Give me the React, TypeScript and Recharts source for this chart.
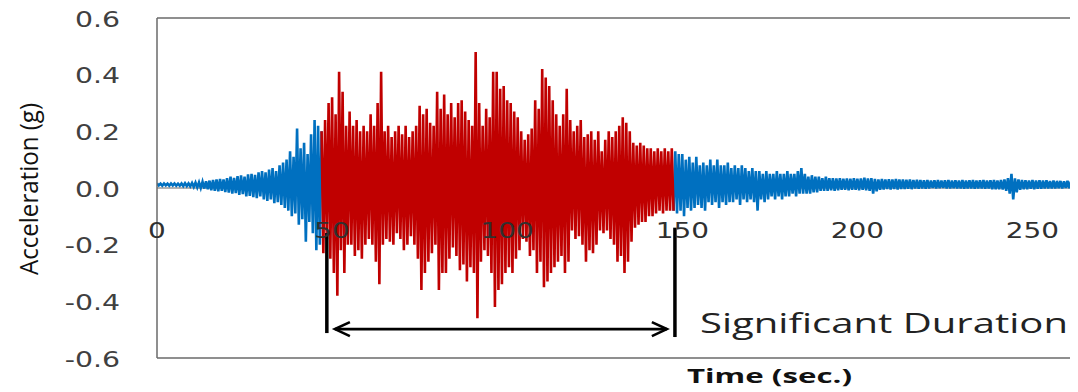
import { LineChart, Line, XAxis, YAxis, ReferenceLine } from "recharts";

// acceleration (g) read from the record: highest and lowest value in each second
const prePeaks = [
  0.016, 0.015, 0.016, 0.015, 0.016, 0.016, 0.015, 0.016, 0.017, 0.016,
  0.018, 0.019, 0.02, 0.022, 0.024, 0.026, 0.028, 0.03, 0.032, 0.03,
  0.035, 0.04, 0.036, 0.042, 0.045, 0.04, 0.048, 0.05, 0.046, 0.055,
  0.06, 0.055, 0.065, 0.07, 0.06, 0.08, 0.09, 0.1, 0.13, 0.11,
  0.21, 0.14, 0.16, 0.12, 0.19, 0.24, 0.22,
];
const preTroughs = [
  0.009, 0.008, 0.009, 0.008, 0.009, 0.008, 0.008, 0.007, 0.007, 0.006,
  0.004, 0.002, 0.0, -0.002, -0.004, -0.008, -0.01, -0.012, -0.01, -0.014,
  -0.016, -0.02, -0.018, -0.024, -0.022, -0.03, -0.028, -0.032, -0.036, -0.03,
  -0.04, -0.046, -0.04, -0.054, -0.05, -0.06, -0.07, -0.08, -0.1, -0.09,
  -0.13, -0.11, -0.19, -0.12, -0.16, -0.22, -0.2,
];

const strongPeaks = [
  0.2,
  0.24, 0.3, 0.32, 0.26, 0.41, 0.34, 0.22, 0.27, 0.22, 0.24,
  0.2, 0.22, 0.2, 0.26, 0.22, 0.3, 0.41, 0.2, 0.22, 0.18,
  0.2, 0.22, 0.19, 0.22, 0.18, 0.2, 0.22, 0.29, 0.26, 0.28,
  0.23, 0.22, 0.34, 0.28, 0.33, 0.26, 0.3, 0.25, 0.3, 0.31,
  0.27, 0.24, 0.22, 0.48, 0.3, 0.22, 0.28, 0.25, 0.41, 0.41,
  0.35, 0.36, 0.31, 0.3, 0.27, 0.25, 0.2, 0.17, 0.19, 0.21,
  0.31, 0.28, 0.42, 0.39, 0.36, 0.31, 0.26, 0.22, 0.26, 0.35,
  0.24, 0.2, 0.22, 0.24, 0.18, 0.19, 0.2, 0.17, 0.2, 0.13,
  0.17, 0.2, 0.18, 0.2, 0.22, 0.25, 0.23, 0.2, 0.16, 0.15,
  0.16, 0.15, 0.14, 0.14, 0.13, 0.14, 0.13, 0.14, 0.13, 0.14,
];
const strongTroughs = [
  -0.23,
  -0.18, -0.25, -0.3, -0.38, -0.22, -0.3, -0.2, -0.2, -0.24, -0.22,
  -0.25, -0.2, -0.18, -0.2, -0.26, -0.34, -0.2, -0.18, -0.19, -0.2,
  -0.16, -0.18, -0.22, -0.2, -0.17, -0.2, -0.25, -0.36, -0.3, -0.26,
  -0.23, -0.2, -0.36, -0.3, -0.3, -0.25, -0.21, -0.24, -0.29, -0.27,
  -0.33, -0.28, -0.3, -0.46, -0.26, -0.22, -0.24, -0.3, -0.42, -0.36,
  -0.34, -0.3, -0.28, -0.3, -0.25, -0.22, -0.18, -0.19, -0.24, -0.22,
  -0.3, -0.26, -0.35, -0.33, -0.3, -0.28, -0.26, -0.24, -0.3, -0.26,
  -0.15, -0.18, -0.17, -0.2, -0.26, -0.22, -0.23, -0.2, -0.15, -0.16,
  -0.15, -0.18, -0.2, -0.26, -0.24, -0.3, -0.26, -0.19, -0.14, -0.13,
  -0.12, -0.12, -0.1, -0.1, -0.09, -0.08, -0.09, -0.08, -0.08, -0.08,
];

const codaPeaks = [
  0.13, 0.12, 0.12, 0.1, 0.11, 0.09, 0.11, 0.08, 0.09, 0.08,
  0.1, 0.08, 0.1, 0.08, 0.08, 0.09, 0.07, 0.08, 0.07, 0.08,
  0.07, 0.06, 0.07, 0.06, 0.06, 0.05, 0.06, 0.05, 0.05, 0.06,
  0.05, 0.05, 0.06, 0.05, 0.05, 0.06, 0.07, 0.05, 0.04, 0.045,
  0.04, 0.04, 0.035, 0.04, 0.035, 0.035, 0.034, 0.035, 0.033, 0.034,
  0.033, 0.035, 0.033, 0.034, 0.036, 0.034, 0.035, 0.032, 0.03, 0.032,
  0.03, 0.031, 0.03, 0.032, 0.03, 0.03, 0.029, 0.03, 0.028, 0.029,
  0.028, 0.027, 0.028, 0.026, 0.027, 0.028, 0.026, 0.027, 0.028, 0.026,
  0.027, 0.026, 0.028, 0.026, 0.027, 0.028, 0.026, 0.027, 0.028, 0.026,
  0.027, 0.028, 0.026, 0.028, 0.03, 0.035, 0.05, 0.034, 0.03, 0.028,
  0.027, 0.026, 0.028, 0.026, 0.027, 0.026, 0.027, 0.025, 0.026, 0.025,
  0.025, 0.024, 0.025, 0.024, 0.025, 0.024,
];
const codaTroughs = [
  -0.09, -0.08, -0.1, -0.07, -0.08, -0.07, -0.06, -0.07, -0.08, -0.05,
  -0.06, -0.05, -0.07, -0.05, -0.06, -0.05, -0.05, -0.04, -0.06, -0.04,
  -0.05, -0.04, -0.05, -0.08, -0.04, -0.05, -0.04, -0.03, -0.04, -0.03,
  -0.04, -0.03, -0.03, -0.02, -0.03, -0.02, -0.02, -0.02, -0.02, -0.015,
  -0.015, -0.01, -0.01, -0.01, -0.008, -0.01, -0.008, -0.006, -0.006, -0.008,
  -0.006, -0.006, -0.008, -0.006, -0.008, -0.01, -0.02, -0.012, -0.006, -0.005,
  -0.004, -0.005, -0.004, -0.005, -0.004, -0.004, -0.003, -0.004, -0.002, -0.003,
  -0.002, -0.003, -0.002, 0.0, -0.002, -0.001, 0.0, -0.002, -0.002, -0.001,
  -0.002, -0.002, -0.003, -0.002, -0.002, -0.003, -0.002, -0.002, -0.003, -0.002,
  -0.004, -0.004, -0.004, -0.005, -0.01, -0.02, -0.04, -0.015, -0.006, -0.004,
  -0.004, -0.003, -0.004, -0.003, -0.003, -0.002, -0.002, -0.002, -0.002, -0.001,
  -0.002, 0.0, -0.001, 0.0, -0.001, 0.0,
];

const strongStart = 47;
const codaStart = 148;
const durationStart = 48.5;
const durationEnd = 147.9;
const xTicks = [0, 50, 100, 150, 200, 250];
const yTicks = [-0.6, -0.4, -0.2, 0, 0.2, 0.4, 0.6];

type Row = { t: number; blue?: number; red?: number };
const data: Row[] = [];
prePeaks.forEach((p, i) => {
  data.push({ t: i, blue: p });
  data.push({ t: i + 0.5, blue: preTroughs[i] });
});
const firstRed = data.length;
strongPeaks.forEach((p, i) => {
  data.push({ t: strongStart + i, red: p });
  data.push({ t: strongStart + i + 0.5, red: strongTroughs[i] });
});
const lastRed = data.length - 1;
codaPeaks.forEach((p, i) => {
  data.push({ t: codaStart + i, blue: p });
  data.push({ t: codaStart + i + 0.5, blue: codaTroughs[i] });
});
// join the blue trace to the red part at both ends
data[firstRed].blue = data[firstRed].red;
data[lastRed].blue = data[lastRed].red;

const tickFont = "DejaVu Sans, Verdana, sans-serif";

const YTick = (props: any) => {
  const { x, y, payload } = props;
  return (
    <text
      transform={`translate(${x - 37},${y + 1}) scale(1.35,1)`}
      textAnchor="end"
      dy="0.36em"
      fontFamily={tickFont}
      fontSize={21}
      fill="#404040"
    >
      {Number(payload.value).toFixed(1)}
    </text>
  );
};

const XTick = (props: any) => {
  const { x, y, payload } = props;
  return (
    <text
      transform={`translate(${x},${y - 120}) scale(1.33,1)`}
      textAnchor="middle"
      fontFamily={tickFont}
      fontSize={21}
      fill="#303030"
    >
      {payload.value}
    </text>
  );
};

const DurationArrow = (props: any) => {
  const { x1, y1, x2, y2 } = props;
  return (
    <g stroke="#000" strokeWidth={2.6} fill="none">
      <line x1={x1} y1={y1} x2={x2} y2={y2} />
      <polyline points={`${x1 + 15},${y1 - 7} ${x1},${y1} ${x1 + 15},${y1 + 7}`} />
      <polyline points={`${x2 - 15},${y2 - 7} ${x2},${y2} ${x2 - 15},${y2 + 7}`} />
    </g>
  );
};

export default function App() {
  return (
    <LineChart
      width={1070}
      height={384}
      data={data}
      margin={{ top: 10, right: 0, left: 0, bottom: 4 }}
    >
      <XAxis
        dataKey="t"
        type="number"
        domain={[0, 263]}
        ticks={xTicks}
        allowDataOverflow
        height={30}
        tickSize={0}
        tickMargin={0}
        tickLine={false}
        axisLine={{ stroke: "#6a6a6a", strokeWidth: 1.5 }}
        tick={XTick}
        label={() => (
          <text
            x={679}
            y={375}
            textLength={165}
            lengthAdjust="spacingAndGlyphs"
            fontFamily="Open Sans, sans-serif"
            fontWeight="bold"
            fontSize={19}
            fill="#111"
          >
            Time (sec.)
          </text>
        )}
      />
      <YAxis
        type="number"
        domain={[-0.6, 0.6]}
        ticks={yTicks}
        width={149}
        tickSize={0}
        tickMargin={0}
        tickLine={false}
        axisLine={{ stroke: "#6a6a6a", strokeWidth: 1.5 }}
        tick={YTick}
        label={() => (
          <text
            transform="translate(30,181) rotate(-90)"
            textAnchor="middle"
            textLength={172}
            lengthAdjust="spacingAndGlyphs"
            fontFamily="Open Sans, sans-serif"
            fontSize={25}
            fill="#111"
          >
            Acceleration (g)
          </text>
        )}
      />
      <ReferenceLine y={0.6} stroke="#6a6a6a" strokeWidth={1.5} />
      <ReferenceLine y={0} stroke="#9a9a9a" strokeWidth={1.5} />
      <Line
        dataKey="blue"
        stroke="#0070C0"
        strokeWidth={2.6}
        dot={false}
        isAnimationActive={false}
      />
      <Line
        dataKey="red"
        stroke="#C00000"
        strokeWidth={2.6}
        dot={false}
        isAnimationActive={false}
      />
      <ReferenceLine
        segment={[
          { x: durationStart, y: -0.159 },
          { x: durationStart, y: -0.512 },
        ]}
        stroke="#000"
        strokeWidth={3.5}
      />
      <ReferenceLine
        segment={[
          { x: durationEnd, y: -0.14 },
          { x: durationEnd, y: -0.526 },
        ]}
        stroke="#000"
        strokeWidth={3.5}
      />
      <ReferenceLine
        segment={[
          { x: 50.8, y: -0.498 },
          { x: 145.6, y: -0.498 },
        ]}
        shape={DurationArrow}
        label={() => (
          <text
            x={692}
            y={325}
            textLength={368}
            lengthAdjust="spacingAndGlyphs"
            fontFamily="Open Sans, sans-serif"
            fontSize={28}
            fill="#222"
          >
            Significant Duration
          </text>
        )}
      />
    </LineChart>
  );
}
